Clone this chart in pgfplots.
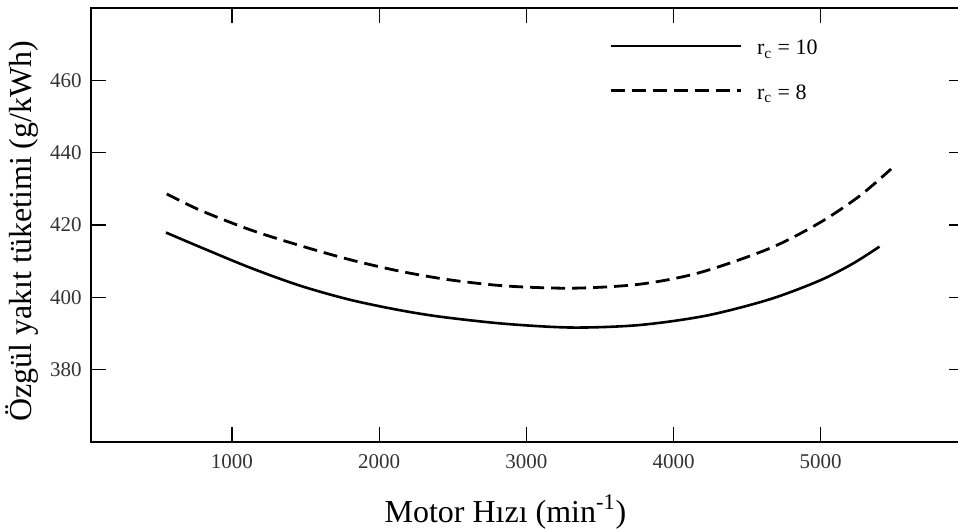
\documentclass[border=0pt]{standalone}
\usepackage{fontspec}
\setmainfont{Liberation Serif}
\usepackage{pgfplots}
\pgfplotsset{compat=1.18}
\begin{document}
\begin{tikzpicture}
\begin{axis}[
 scale only axis,
 width=436.75pt, height=216.85pt,
 xmin=40, xmax=5970, ymin=360, ymax=480,
 xtick={1000,2000,3000,4000,5000},
 ytick={380,400,420,440,460},
 tick align=inside,
 xtick pos=both, ytick pos=both,
 xticklabel pos=lower, yticklabel pos=left,
 major tick length=7.5pt,
 every tick/.style={black, line width=0.6pt},
 axis line style={line width=1pt},
 /pgf/number format/assume math mode=true,
 /pgf/number format/set thousands separator={},
 tick label style={font=\fontsize{10.5}{12}\selectfont, text=black!80},
 xticklabel style={yshift=-3pt},
 yticklabel style={xshift=-1pt},
 xlabel={Motor Hızı (min\textsuperscript{-1})},
 ylabel={Özgül yakıt tüketimi (g/kWh)},
 label style={font=\fontsize{16}{19}\selectfont},
 xlabel style={at={(axis description cs:0.4753,-0.186)}, anchor=base, inner sep=0pt},
 ylabel style={at={(axis description cs:-0.0786,0.4854)}, anchor=center, inner sep=0pt},
 legend style={draw=none, fill=none, inner sep=0pt, column sep=7.5pt, row sep=9.35pt,
   at={(rel axis cs:0.5938,0.8615)}, anchor=west,
   nodes={inner sep=0pt, text height=11pt, text depth=2pt, font=\fontsize{11}{13}\selectfont}},
 legend cell align=left,
 legend image code/.code={\draw[#1] (0pt,0pt) -- (65pt,0pt);},
]
\coordinate (BL) at (rel axis cs:0,0);
\coordinate (TR) at (rel axis cs:1,1);
\addplot[black, line width=1.3pt, smooth] coordinates {
(552,417.9) (783,413.9) (1122,408.2) (1462,403.2) (1801,399.3) (2141,396.4)
(2434,394.5) (2865,392.6) (3317,391.6) (3770,392.3) (4223,394.9) (4652,399.4)
(4992,404.6) (5218,409.3) (5399,414.0)};
\addlegendentry{r\textsubscript{c} = 10}
\addplot[black, line width=1.4pt, dash pattern=on 7pt off 3.5pt, smooth] coordinates {
(557,428.6) (783,424.1) (1122,418.7) (1462,414.3) (1801,410.4) (2141,407.2)
(2480,404.8) (2865,403.1) (3317,402.5) (3770,403.6) (4177,406.8) (4652,413.5)
(4992,420.6) (5263,428.0) (5478,435.5)};
\addlegendentry{r\textsubscript{c} = 8}
\end{axis}
\pgfresetboundingbox
\path[use as bounding box] ([shift={(-45.35pt,-43.5pt)}]BL) rectangle ([shift={(-2.75pt,4.15pt)}]TR);
\end{tikzpicture}
\end{document}
